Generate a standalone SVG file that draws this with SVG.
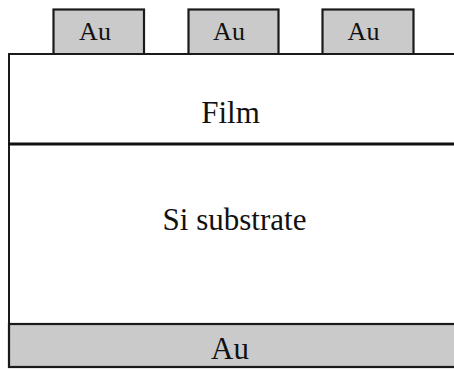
<svg xmlns="http://www.w3.org/2000/svg" width="454" height="369" viewBox="0 0 454 369">
  <style>
    .layer { fill: #ffffff; stroke: #1a1a1a; stroke-width: 2; }
    .metal { fill: #cacaca; stroke: #1a1a1a; stroke-width: 2.2; }
    .lbl { font-family: "Liberation Serif", "Times New Roman", serif; fill: #111111; text-anchor: middle; }
    .big { font-size: 31px; }
    .small { font-size: 26px; }
  </style>
  <rect width="454" height="369" fill="#ffffff"/>

  <!-- top electrode pads -->
  <g id="pad1">
    <rect class="metal" x="53.5" y="9.5" width="90.5" height="45"/>
    <text class="lbl small" x="95" y="39.5">Au</text>
  </g>
  <g id="pad2">
    <rect class="metal" x="188.5" y="9.5" width="90" height="45"/>
    <text class="lbl small" x="229" y="39.5">Au</text>
  </g>
  <g id="pad3">
    <rect class="metal" x="322.5" y="9.5" width="91" height="45"/>
    <text class="lbl small" x="363.5" y="39.5">Au</text>
  </g>

  <!-- film layer -->
  <g id="film">
    <rect class="layer" x="9" y="54" width="460" height="90"/>
    <text class="lbl big" x="230.5" y="123">Film</text>
  </g>

  <!-- silicon substrate -->
  <g id="substrate">
    <rect class="layer" x="9" y="144" width="460" height="180"/>
    <text class="lbl big" x="234.5" y="230">Si substrate</text>
  </g>

  <!-- back electrode -->
  <g id="back-electrode">
    <rect class="metal" x="9" y="324" width="460" height="43"/>
    <text class="lbl big" x="230" y="359">Au</text>
  </g>

  <!-- film / substrate interface -->
  <g id="connectors">
    <line x1="8" y1="144" x2="454" y2="144" stroke="#111111" stroke-width="3"/>
  </g>
</svg>
